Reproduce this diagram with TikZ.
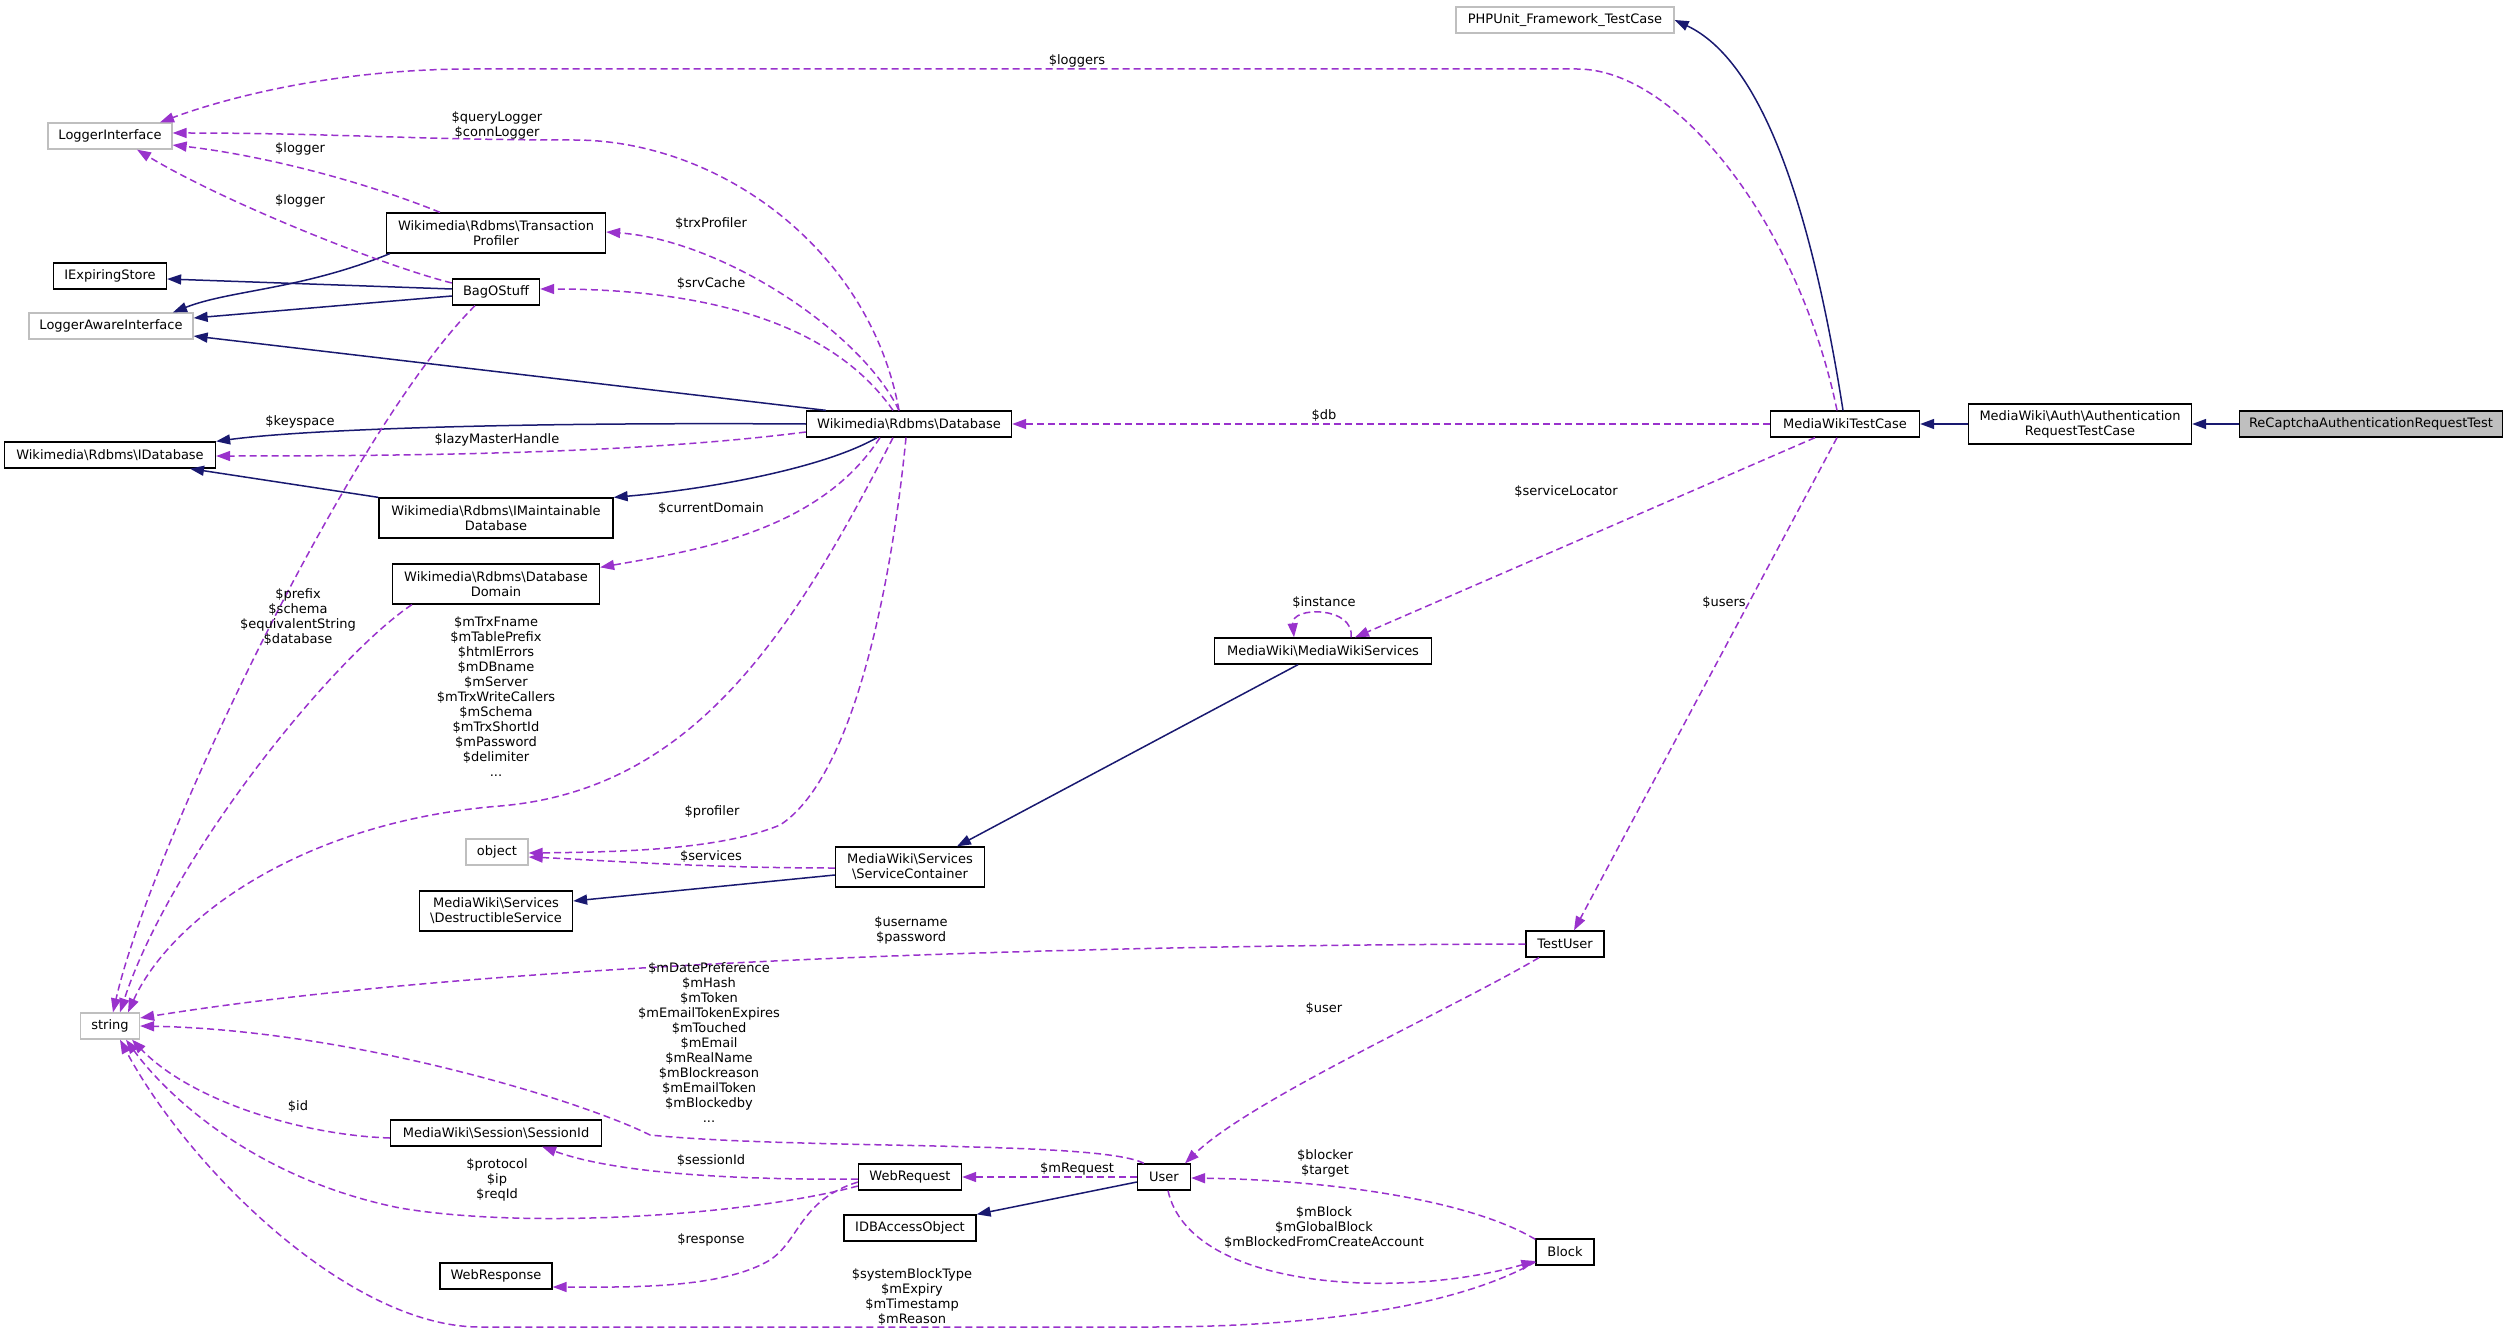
\documentclass[tikz,border=0pt]{standalone}
\usepackage{fontspec}
\setmainfont{DejaVu Sans}
\usetikzlibrary{arrows.meta,calc}
\definecolor{edgenavy}{RGB}{25,25,112}
\definecolor{edgepurple}{RGB}{153,50,204}
\definecolor{boxgray}{RGB}{191,191,191}
\newcommand{\bs}{\textbackslash}

\begin{document}
\begin{tikzpicture}[x=1pt,y=-1pt,>={Triangle[length=14pt,width=10pt]},
  cls/.style={draw=black, line width=1.3pt, fill=white, inner sep=0pt, align=center,
    minimum height=26pt, font=\fontsize{13}{15}\selectfont},
  ext/.style={cls, draw=boxgray},
  inh/.style={->, edgenavy, line width=1.5pt},
  use/.style={->, edgepurple, line width=1.5pt, dash pattern=on 7pt off 4pt},
  lbl/.style={align=center, inner sep=0pt, font=\fontsize{13}{15}\selectfont}]
  \useasboundingbox (0,0) rectangle (2509,1332);

  % Classes
  \node[cls, fill=boxgray, minimum width=263pt] (recap) at (2371,424) {ReCaptchaAuthenticationRequestTest};
  \node[cls, minimum width=223pt, minimum height=40pt] (authrtc) at (2080,424) {MediaWiki\bs Auth\bs Authentication\\RequestTestCase};
  \node[cls, minimum width=149pt] (mwtc) at (1845,424) {MediaWikiTestCase};
  \node[ext, minimum width=218pt] (phpunit) at (1565,20) {PHPUnit\_Framework\_TestCase};
  \node[cls, minimum width=205pt] (db) at (909,424) {Wikimedia\bs Rdbms\bs Database};
  \node[ext, minimum width=124pt] (logif) at (110,136) {LoggerInterface};
  \node[cls, minimum width=219pt, minimum height=40pt] (trxprof) at (496,233) {Wikimedia\bs Rdbms\bs Transaction\\Profiler};
  \node[cls, minimum width=113pt] (iexp) at (110,276) {IExpiringStore};
  \node[cls, minimum width=87pt] (bag) at (496,292) {BagOStuff};
  \node[ext, minimum width=164pt] (logaware) at (111,326) {LoggerAwareInterface};
  \node[cls, minimum width=211pt] (idb) at (110,455) {Wikimedia\bs Rdbms\bs IDatabase};
  \node[cls, minimum width=234pt, minimum height=40pt] (imaint) at (496,518) {Wikimedia\bs Rdbms\bs IMaintainable\\Database};
  \node[cls, minimum width=207pt, minimum height=40pt] (dbdomain) at (496,584) {Wikimedia\bs Rdbms\bs Database\\Domain};
  \node[ext, minimum width=62pt] (object) at (497,852) {object};
  \node[cls, minimum width=149pt, minimum height=40pt] (svccont) at (910,867) {MediaWiki\bs Services\\\bs ServiceContainer};
  \node[cls, minimum width=153pt, minimum height=40pt] (destr) at (496,911) {MediaWiki\bs Services\\\bs DestructibleService};
  \node[cls, minimum width=217pt] (mwservices) at (1323,651) {MediaWiki\bs MediaWikiServices};
  \node[cls, minimum width=78pt] (testuser) at (1565,944) {TestUser};
  \node[ext, minimum width=59pt] (string) at (110,1026) {string};
  \node[cls, minimum width=211pt] (sessionid) at (496,1133) {MediaWiki\bs Session\bs SessionId};
  \node[cls, minimum width=103pt] (webreq) at (910,1177) {WebRequest};
  \node[cls, minimum width=132pt] (idbaccess) at (910,1228) {IDBAccessObject};
  \node[cls, minimum width=112pt] (webresp) at (496,1276) {WebResponse};
  \node[cls, minimum width=53pt] (user) at (1164,1177) {User};
  \node[cls, minimum width=58pt] (block) at (1565,1252) {Block};

  % Inheritance
  \draw[inh] (recap.west) -- (authrtc.east);
  \draw[inh] (authrtc.west) -- (mwtc.east);
  \draw[inh] ($(mwtc.north)+(-2,0)$) .. controls (1810,200) and (1760,60) .. (phpunit.east);
  \draw[inh] ($(bag.west)+(0,-3)$) -- ($(iexp.east)+(0,3)$);
  \draw[inh] ($(bag.west)+(0,4)$) -- ($(logaware.east)+(0,-8)$);
  \draw[inh] ($(trxprof.south west)+(4,0)$) .. controls (300,290) and (230,290) .. ($(logaware.north)+(62,0)$);
  \draw[inh] ($(db.north west)+(20,0)$) -- ($(logaware.east)+(0,10)$);
  \draw[inh] (db.west) .. controls (500,422) and (300,430) .. (idb.north east);
  \draw[inh] (imaint.north west) -- ($(idb.south)+(80,0)$);
  \draw[inh] ($(db.south)+(-32,0)$) .. controls (820,470) and (700,490) .. (imaint.north east);
  \draw[inh] ($(mwservices.south)+(-25,0)$) -- ($(svccont.north)+(47,0)$);
  \draw[inh] ($(svccont.west)+(0,8)$) -- ($(destr.east)+(0,-10)$);
  \draw[inh] ($(user.west)+(0,5)$) -- (idbaccess.north east);

  % Members
  \draw[use] ($(mwtc.north)+(-8,0)$) .. controls (1800,230) and (1680,69) .. (1577,69) -- (472,69)
    .. controls (330,69) and (220,100) .. ($(logif.north)+(50,0)$);
  \draw[use] ($(db.north)+(-10,0)$) .. controls (870,250) and (720,140) .. (574,140)
    .. controls (420,140) and (330,133) .. ($(logif.east)+(0,-3)$);
  \draw[use] ($(trxprof.north)+(-56,0)$) .. controls (360,180) and (260,155) .. ($(logif.east)+(0,9)$);
  \draw[use] ($(bag.west)+(0,-9)$) .. controls (380,265) and (220,200) .. ($(logif.south)+(27,0)$);
  \draw[use] ($(db.north)+(-10,0)$) .. controls (860,330) and (720,240) .. ($(trxprof.east)+(0,-1)$);
  \draw[use] ($(db.north)+(-16,0)$) .. controls (830,320) and (700,289) .. ($(bag.east)+(0,-3)$);
  \draw[use] ($(db.west)+(0,8)$) .. controls (650,452) and (450,456) .. ($(idb.east)+(0,1)$);
  \draw[use] ($(db.south)+(-29,0)$) .. controls (820,530) and (700,550) .. ($(dbdomain.north east)+(0,4)$);
  \draw[use] ($(db.south)+(-16,0)$) .. controls (790,640) and (690,790) .. (500,806)
    .. controls (300,822) and (170,920) .. ($(string.north)+(18,0)$);
  \draw[use] ($(db.south)+(-3,0)$) .. controls (890,600) and (850,780) .. (780,825)
    .. controls (720,850) and (620,852) .. ($(object.east)+(0,1)$);
  \draw[use] ($(svccont.west)+(0,1)$) .. controls (700,868) and (600,860) .. ($(object.east)+(0,5)$);
  \draw[use] ($(bag.south)+(-21,0)$) .. controls (350,430) and (150,850) .. ($(string.north)+(3,0)$);
  \draw[use] ($(dbdomain.south west)+(20,0)$) .. controls (330,660) and (170,860) .. ($(string.north)+(10,0)$);
  \draw[use] (mwtc.west) -- (db.east);
  \draw[use] ($(mwtc.south)+(-30,0)$) -- ($(mwservices.north)+(32,0)$);
  \draw[use] ($(mwservices.north)+(28,0)$) .. controls (1355,606) and (1291,606) .. ($(mwservices.north)+(-29,0)$);
  \draw[use] ($(mwtc.south)+(-8,0)$) -- ($(testuser.north)+(9,0)$);
  \draw[use] (testuser.west) .. controls (1100,945) and (500,960) .. ($(string.east)+(0,-8)$);
  \draw[use] ($(testuser.south)+(-26,0)$) .. controls (1450,1010) and (1250,1100) .. ($(user.north)+(21,0)$);
  \draw[use] ($(user.north west)+(7,0)$) .. controls (1100,1140) and (800,1150) .. (650,1135)
    .. controls (580,1100) and (350,1030) .. (string.east);
  \draw[use] (user.west) -- (webreq.east);
  \draw[use] ($(webreq.west)+(0,2)$) .. controls (750,1180) and (620,1175) .. ($(sessionid.south east)+(-60,0)$);
  \draw[use] ($(webreq.west)+(0,9)$) .. controls (750,1215) and (530,1230) .. (400,1208)
    .. controls (260,1180) and (170,1100) .. ($(string.south)+(16,0)$);
  \draw[use] ($(sessionid.west)+(0,5)$) .. controls (300,1135) and (190,1100) .. ($(string.south)+(22,0)$);
  \draw[use] ($(webreq.west)+(0,5)$) .. controls (800,1200) and (800,1240) .. (770,1260)
    .. controls (720,1290) and (620,1287) .. ($(webresp.east)+(0,11)$);
  \draw[use] ($(user.south)+(4,0)$) .. controls (1190,1290) and (1400,1300) .. ($(block.west)+(0,9)$);
  \draw[use] ($(block.north west)+(0,1)$) .. controls (1470,1200) and (1330,1180) .. ($(user.east)+(0,1)$);
  \draw[use] ($(block.west)+(0,10)$) .. controls (1450,1310) and (1300,1327) .. (1150,1327) -- (480,1327)
    .. controls (350,1327) and (190,1170) .. ($(string.south)+(10,0)$);

  % Labels
  \node[lbl] (l-loggers) at (1077,61) {\$loggers};
  \node[lbl] (l-qlog) at (497,125) {\$queryLogger\\\$connLogger};
  \node[lbl] (l-log1) at (300,149) {\$logger};
  \node[lbl] (l-log2) at (300,201) {\$logger};
  \node[lbl] (l-trx) at (711,224) {\$trxProfiler};
  \node[lbl] (l-srv) at (711,284) {\$srvCache};
  \node[lbl] (l-key) at (300,422) {\$keyspace};
  \node[lbl] (l-lazy) at (497,440) {\$lazyMasterHandle};
  \node[lbl] (l-db) at (1324,416) {\$db};
  \node[lbl] (l-cur) at (711,509) {\$currentDomain};
  \node[lbl] (l-prefix) at (298,617) {\$prefix\\\$schema\\\$equivalentString\\\$database};
  \node[lbl] (l-dbstr) at (496,697) {\$mTrxFname\\\$mTablePrefix\\\$htmlErrors\\\$mDBname\\\$mServer\\
    \$mTrxWriteCallers\\\$mSchema\\\$mTrxShortId\\\$mPassword\\\$delimiter\\...};
  \node[lbl] (l-loc) at (1566,492) {\$serviceLocator};
  \node[lbl] (l-inst) at (1324,603) {\$instance};
  \node[lbl] (l-users) at (1724,603) {\$users};
  \node[lbl] (l-prof) at (712,812) {\$profiler};
  \node[lbl] (l-svc) at (711,857) {\$services};
  \node[lbl] (l-uname) at (911,930) {\$username\\\$password};
  \node[lbl] (l-user) at (1324,1009) {\$user};
  \node[lbl] (l-userstr) at (709,1043) {\$mDatePreference\\\$mHash\\\$mToken\\\$mEmailTokenExpires\\\$mTouched\\
    \$mEmail\\\$mRealName\\\$mBlockreason\\\$mEmailToken\\\$mBlockedby\\...};
  \node[lbl] (l-id) at (298,1107) {\$id};
  \node[lbl] (l-sess) at (711,1161) {\$sessionId};
  \node[lbl] (l-proto) at (497,1180) {\$protocol\\\$ip\\\$reqId};
  \node[lbl] (l-mreq) at (1077,1169) {\$mRequest};
  \node[lbl] (l-blocker) at (1325,1163) {\$blocker\\\$target};
  \node[lbl] (l-resp) at (711,1240) {\$response};
  \node[lbl] (l-mblock) at (1324,1228) {\$mBlock\\\$mGlobalBlock\\\$mBlockedFromCreateAccount};
  \node[lbl] (l-sbt) at (912,1297) {\$systemBlockType\\\$mExpiry\\\$mTimestamp\\\$mReason};
\end{tikzpicture}
\end{document}
